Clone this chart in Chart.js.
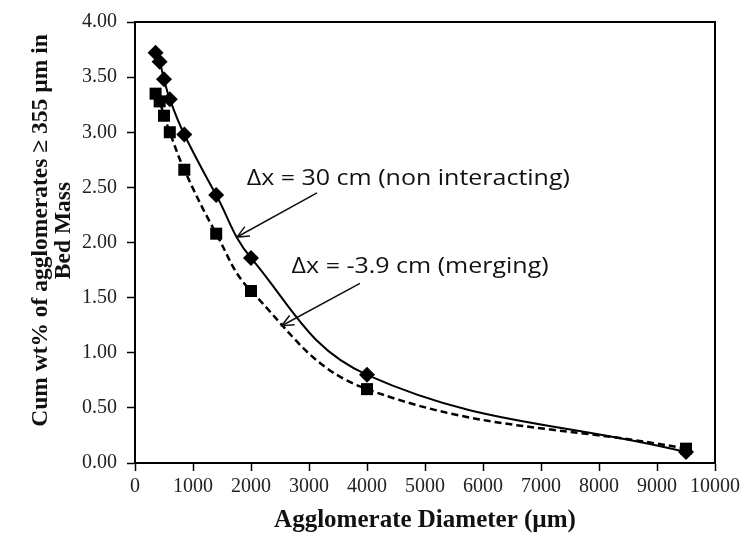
<!DOCTYPE html>
<html>
<head>
<meta charset="utf-8">
<script src="https://cdn.jsdelivr.net/npm/chart.js@4"></script>
<style>
html,body{margin:0;padding:0;background:#fff;}
#wrap{width:751px;height:535px;position:relative;}
</style>
</head>
<body>
<div id="wrap"><canvas id="c" width="751" height="535"></canvas></div>
<script>
// ---- data ----
const diameters = [355, 425, 500, 600, 850, 1400, 2000, 4000, 9500];
const nonInteracting = [3.72, 3.64, 3.48, 3.30, 2.98, 2.43, 1.86, 0.80, 0.10];
const merging = [3.35, 3.28, 3.15, 3.00, 2.66, 2.08, 1.56, 0.67, 0.13];
const xTicks = [0, 1000, 2000, 3000, 4000, 5000, 6000, 7000, 8000, 9000, 10000];
const yTicks = [0, 0.5, 1, 1.5, 2, 2.5, 3, 3.5, 4];
const xTitle = 'Agglomerate Diameter (\u00b5m)';
const yTitle = ['Cum wt% of agglomerates \u2265 355 \u00b5m in', 'Bed Mass'];
const labelNonInteracting = '\u0394x = 30 cm (non interacting)';
const labelMerging = '\u0394x = -3.9 cm (merging)';
// annotation anchors in data units: text baseline start, arrow start, arrow tip
const noteNonInteracting = {text: [1926, 2.52], from: [3138, 2.45], to: [1759, 2.05]};
const noteMerging = {text: [2700, 1.72], from: [3879, 1.63], to: [2529, 1.245]};

const toPts = (xs, ys) => xs.map((x, i) => ({x: x, y: ys[i]}));

const boxPlugin = {
  id: 'box',
  afterLayout(chart) {
    const s = chart.scales.y;
    if (s && !s._titleShifted) {
      const orig = s.drawTitle.bind(s);
      s.drawTitle = function () {
        const c = chart.ctx;
        c.save();
        c.translate(1, -12);
        orig();
        c.restore();
      };
      s._titleShifted = true;
    }
  },
  afterDraw(chart) {
    const {ctx, chartArea: a, scales: {x, y}} = chart;
    ctx.save();
    ctx.strokeStyle = '#000';
    ctx.lineWidth = 2;
    ctx.beginPath();
    ctx.moveTo(a.left - 1, a.top);
    ctx.lineTo(a.right, a.top);
    ctx.lineTo(a.right, a.bottom + 1);
    ctx.stroke();
    // annotations
    ctx.fillStyle = '#111';
    ctx.font = '21px "Open Sans", "Liberation Sans", sans-serif';
    ctx.textBaseline = 'alphabetic';
    ctx.textAlign = 'left';
    const notes = [[labelNonInteracting, noteNonInteracting], [labelMerging, noteMerging]];
    for (const [label, n] of notes) {
      const tx = x.getPixelForValue(n.text[0]), ty = y.getPixelForValue(n.text[1]);
      ctx.save();
      ctx.translate(tx, ty);
      ctx.scale(1.19, 1);
      ctx.fillText(label, 0, 0);
      ctx.restore();
      const x1 = x.getPixelForValue(n.from[0]), y1 = y.getPixelForValue(n.from[1]);
      const x2 = x.getPixelForValue(n.to[0]), y2 = y.getPixelForValue(n.to[1]);
      ctx.lineWidth = 1.5;
      ctx.strokeStyle = '#111';
      ctx.beginPath();
      ctx.moveTo(x1, y1);
      ctx.lineTo(x2, y2);
      ctx.stroke();
      const ang = Math.atan2(y2 - y1, x2 - x1);
      const L = 13, w = 0.42;
      ctx.beginPath();
      ctx.moveTo(x2 - L * Math.cos(ang - w), y2 - L * Math.sin(ang - w));
      ctx.lineTo(x2, y2);
      ctx.lineTo(x2 - L * Math.cos(ang + w), y2 - L * Math.sin(ang + w));
      ctx.stroke();
    }
    ctx.restore();
  }
};

new Chart(document.getElementById('c'), {
  type: 'scatter',
  data: {
    datasets: [
      {
        label: 'non interacting',
        data: toPts(diameters, nonInteracting),
        showLine: true,
        borderColor: '#000',
        backgroundColor: '#000',
        borderWidth: 2,
        tension: 0.4,
        pointStyle: 'rectRot',
        pointRadius: 8,
        pointBorderWidth: 0,
        pointBackgroundColor: '#000'
      },
      {
        label: 'merging',
        data: toPts(diameters, merging),
        showLine: true,
        borderColor: '#000',
        backgroundColor: '#000',
        borderWidth: 2.5,
        borderDash: [7, 4],
        tension: 0.4,
        pointStyle: 'rect',
        pointRadius: 8.5,
        pointBorderWidth: 0,
        pointBackgroundColor: '#000'
      }
    ]
  },
  options: {
    responsive: false,
    animation: false,
    clip: false,
    layout: {padding: {left: 0, top: 14, right: 36, bottom: 0}},
    plugins: {legend: {display: false}, tooltip: {enabled: false}},
    scales: {
      x: {
        type: 'linear',
        min: 0, max: 10000,
        afterBuildTicks: s => { s.ticks = xTicks.map(v => ({value: v})); },
        afterFit: s => { s.height = 72; },
        border: {color: '#000', width: 2},
        grid: {drawOnChartArea: false, drawTicks: true, tickLength: 8, color: '#000', tickWidth: 1.5},
        ticks: {color: '#222', padding: 4, maxRotation: 0, font: {family: '"Liberation Serif", serif', size: 20}, callback: v => String(v)},
        title: {display: true, text: xTitle, color: '#111', padding: {top: 4, bottom: 0}, font: {family: '"Liberation Serif", serif', size: 25, weight: 'bold', lineHeight: 1.15}}
      },
      y: {
        type: 'linear',
        min: 0, max: 4,
        afterBuildTicks: s => { s.ticks = yTicks.map(v => ({value: v})); },
        afterFit: s => { s.width = 135; },
        border: {color: '#000', width: 2},
        grid: {drawOnChartArea: false, drawTicks: true, tickLength: 8, color: '#000', tickWidth: 1.5},
        ticks: {color: '#222', padding: 10, font: {family: '"Liberation Serif", serif', size: 20}, callback: v => Number(v).toFixed(2)},
        title: {display: true, text: yTitle, color: '#111', padding: {top: 29, bottom: 0}, font: {family: '"Liberation Serif", serif', size: 23.5, weight: 'bold', lineHeight: 0.95}}
      }
    }
  },
  plugins: [boxPlugin]
});
</script>
</body>
</html>
